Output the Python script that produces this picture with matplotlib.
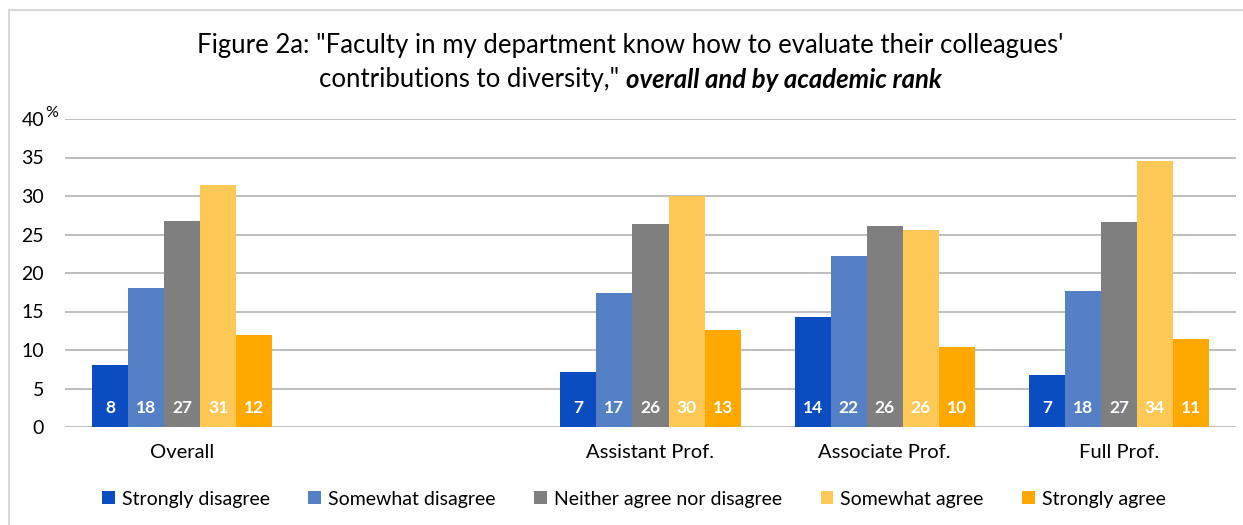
import matplotlib
matplotlib.use("Agg")
import matplotlib.pyplot as plt
import numpy as np
from matplotlib.patches import Rectangle

plt.rcParams['font.family'] = ['Lato', 'DejaVu Sans']

categories = ["Overall", "", "Assistant Prof.", "Associate Prof.", "Full Prof."]
series_names = ["Strongly disagree", "Somewhat disagree", "Neither agree nor disagree",
                "Somewhat agree", "Strongly agree"]
strongly_disagree = [8.0, None, 7.1, 14.3, 6.8]
somewhat_disagree = [18.1, None, 17.4, 22.2, 17.7]
neither = [26.8, None, 26.4, 26.1, 26.6]
somewhat_agree = [31.4, None, 30.0, 25.6, 34.5]
strongly_agree = [11.9, None, 12.6, 10.4, 11.4]
yticks = [0, 5, 10, 15, 20, 25, 30, 35, 40]

series = [strongly_disagree, somewhat_disagree, neither, somewhat_agree, strongly_agree]
colors = ["#0B4CC0", "#5680C5", "#7F7F7F", "#FEC857", "#FEA800"]

W, H = 1243, 525
fig = plt.figure(figsize=(W / 100, H / 100), dpi=100)
ax = fig.add_axes([65 / W, 1 - 427 / H, (1236 - 65) / W, (427 - 119) / H])

# light frame around the chart area
fig.patches.append(Rectangle((9 / W, -0.1), 1.2, 1 - 10 / H + 0.1,
                             transform=fig.transFigure, fill=False,
                             edgecolor="#d9d9d9", linewidth=1.5))

x = np.arange(len(categories))
w = 0.154
for i, (vals, col, name) in enumerate(zip(series, colors, series_names)):
    xs = [xi + (i - 2) * w for xi, v in zip(x, vals) if v is not None]
    vs = [v for v in vals if v is not None]
    bars = ax.bar(xs, vs, width=w, color=col, label=name, zorder=3)
    for b, v in zip(bars, vs):
        ax.annotate(f"{v:.0f}", (b.get_x() + b.get_width() / 2, 0),
                    xytext=(0, 8), textcoords="offset points",
                    ha="center", va="bottom", color="white",
                    fontsize=12.5, fontweight="bold", zorder=4)

ax.set_xlim(-0.5, len(categories) - 0.5)
ax.set_ylim(0, 40)
ax.set_yticks(yticks)
ax.set_yticklabels([str(t) for t in yticks], fontsize=14)
ax.yaxis.grid(True, color="#bfbfbf", linewidth=1.4, zorder=0)
ax.set_axisbelow(True)
ax.tick_params(axis="y", length=0, pad=15)
ax.tick_params(axis="x", length=0, pad=12)
ax.set_xticks(x)
ax.set_xticklabels(categories, fontsize=14.5)
for s in ax.spines.values():
    s.set_visible(False)
ax.axhline(0, color="#bfbfbf", linewidth=1.4, zorder=2)

fig.text(45 / W, 1 - 113 / H, "%", fontsize=11.5, ha="left", va="center")

title_size = 18.5
fig.text(0.507, 1 - 45 / H,
         "Figure 2a: \"Faculty in my department know how to evaluate their colleagues'",
         fontsize=title_size, ha="center", va="center")
t_reg = fig.text(0, 1 - 80 / H, "contributions to diversity,\" ",
                 fontsize=title_size, ha="left", va="center")
t_bold = fig.text(0, 1 - 80 / H, "overall and by academic rank",
                  fontsize=title_size, ha="left", va="center",
                  fontweight="bold", fontstyle="italic")
renderer = fig.canvas.get_renderer()
w1 = t_reg.get_window_extent(renderer).width
w2 = t_bold.get_window_extent(renderer).width
start = 0.507 * W - (w1 + w2) / 2
t_reg.set_x(start / W)
t_bold.set_x((start + w1) / W)

fig.legend(loc="center", bbox_to_anchor=(0.51, 1 - 499 / H), ncol=5, frameon=False,
           fontsize=14, handlelength=0.65, handleheight=0.65, handletextpad=0.35,
           columnspacing=2.0)

fig.savefig("out.png", dpi=100)
